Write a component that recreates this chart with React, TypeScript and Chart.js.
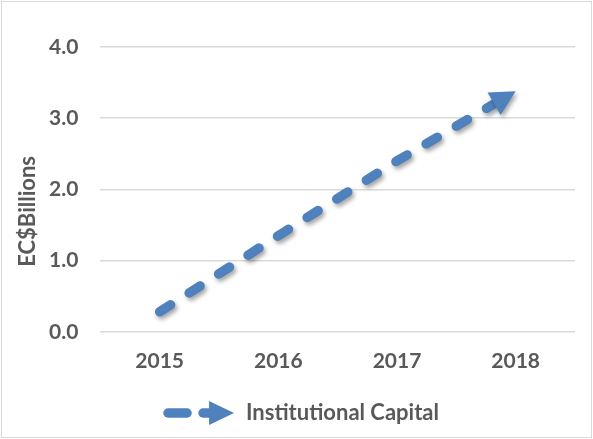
import React, { useEffect, useRef } from "react";
import { Chart, registerables } from "chart.js";

Chart.register(...registerables);

const categories = ["2015", "2016", "2017", "2018"];
const seriesName = "Institutional Capital";
const seriesValues = [0.28, 1.35, 2.4, 3.38];
const yTicks = [0, 1, 2, 3, 4];
const yTitle = "EC$Billions";

const BLUE = "#4f81bd";
const TEXT = "#595959";
const GRID = "#d9d9d9";
const FONT = "Lato";

function makeLegendImage(): HTMLCanvasElement {
  const c = document.createElement("canvas");
  c.width = 72;
  c.height = 26;
  const g = c.getContext("2d")!;
  g.strokeStyle = BLUE;
  g.fillStyle = BLUE;
  g.lineCap = "round";
  g.lineWidth = 9.5;
  g.beginPath();
  g.moveTo(5, 13);
  g.lineTo(24, 13);
  g.stroke();
  g.beginPath();
  g.moveTo(40, 13);
  g.lineTo(48, 13);
  g.stroke();
  g.beginPath();
  g.moveTo(46, 1);
  g.lineTo(71, 13);
  g.lineTo(46, 25);
  g.closePath();
  g.fill();
  return c;
}

const ARROW_LEN = 25;
const ARROW_W = 26;

function arrowGeom(chart: any) {
  const meta = chart.getDatasetMeta(0);
  const pts = meta.data;
  if (!pts || pts.length < 2) return null;
  const a = pts[pts.length - 2];
  const b = pts[pts.length - 1];
  const dx = b.x - a.x;
  const dy = b.y - a.y;
  const len = Math.hypot(dx, dy);
  const ux = dx / len;
  const uy = dy / len;
  return { tip: { x: b.x, y: b.y }, ux, uy };
}

const arrowPlugin = {
  id: "arrowPlugin",
  beforeDatasetsDraw(chart: any) {
    const g = arrowGeom(chart);
    const ctx = chart.ctx;
    ctx.save();
    ctx.shadowColor = "rgba(0,0,0,0.35)";
    ctx.shadowBlur = 4;
    ctx.shadowOffsetX = 2;
    ctx.shadowOffsetY = 3;
    if (g) {
      const bx = g.tip.x - g.ux * (ARROW_LEN - 4);
      const by = g.tip.y - g.uy * (ARROW_LEN - 4);
      const px = -g.uy;
      const py = g.ux;
      const B = 3000;
      ctx.beginPath();
      ctx.moveTo(bx + px * B, by + py * B);
      ctx.lineTo(bx - px * B, by - py * B);
      ctx.lineTo(bx - px * B - g.ux * B, by - py * B - g.uy * B);
      ctx.lineTo(bx + px * B - g.ux * B, by + py * B - g.uy * B);
      ctx.closePath();
      ctx.clip();
    }
  },
  afterDatasetsDraw(chart: any) {
    const ctx = chart.ctx;
    ctx.restore();
    const g = arrowGeom(chart);
    if (!g) return;
    const { tip, ux, uy } = g;
    const px = -uy;
    const py = ux;
    const bx = tip.x - ux * ARROW_LEN;
    const by = tip.y - uy * ARROW_LEN;
    ctx.save();
    ctx.shadowColor = "rgba(0,0,0,0.35)";
    ctx.shadowBlur = 4;
    ctx.shadowOffsetX = 2;
    ctx.shadowOffsetY = 3;
    ctx.fillStyle = BLUE;
    ctx.beginPath();
    ctx.moveTo(tip.x, tip.y);
    ctx.lineTo(bx + px * ARROW_W / 2, by + py * ARROW_W / 2);
    ctx.lineTo(bx - px * ARROW_W / 2, by - py * ARROW_W / 2);
    ctx.closePath();
    ctx.fill();
    ctx.restore();
  },
};

const yTitlePlugin = {
  id: "yTitlePlugin",
  afterDraw(chart: any) {
    const ctx = chart.ctx;
    const area = chart.chartArea;
    ctx.save();
    ctx.translate(28, (area.top + area.bottom) / 2 + 22);
    ctx.rotate(-Math.PI / 2);
    ctx.font = `bold 22px ${FONT}`;
    ctx.fillStyle = TEXT;
    ctx.textAlign = "center";
    ctx.textBaseline = "middle";
    ctx.fillText(yTitle, 0, 0);
    ctx.restore();
  },
};

export default function App() {
  const ref = useRef<HTMLCanvasElement>(null);
  useEffect(() => {
    if (!ref.current) return;
    const legendImg = makeLegendImage();
    const chart = new Chart(ref.current, {
      type: "line",
      data: {
        labels: categories,
        datasets: [
          {
            label: seriesName,
            data: seriesValues,
            borderColor: BLUE,
            backgroundColor: BLUE,
            borderWidth: 9.5,
            borderDash: [13, 22],
            borderCapStyle: "round",
            pointRadius: 0,
            tension: 0,
            clip: false as any,
          },
        ],
      },
      options: {
        responsive: false,
        animation: false,
        layout: { padding: { left: 27, right: 18, top: 47, bottom: 5 } },
        scales: {
          x: {
            offset: true,
            grid: { display: false, drawTicks: false },
            border: { display: false },
            ticks: {
              color: TEXT,
              font: { family: FONT, size: 21, weight: "bold" },
              padding: 17,
            },
          },
          y: {
            min: 0,
            max: 4,
            afterBuildTicks: (scale: any) => {
              scale.ticks = yTicks.map((v) => ({ value: v }));
            },
            grid: { color: GRID, lineWidth: 1.5, drawTicks: false },
            border: { display: false },
            ticks: {
              color: TEXT,
              font: { family: FONT, size: 21, weight: "bold" },
              padding: 22,
              callback: (v: any) => Number(v).toFixed(1),
            },
          },
        },
        plugins: {
          tooltip: { enabled: false },
          legend: {
            position: "bottom",
            labels: {
              usePointStyle: true,
              pointStyleWidth: 72,
              boxHeight: 20,
              padding: 11,
              color: TEXT,
              font: { family: FONT, size: 22, weight: "bold" },
              generateLabels: () => [
                {
                  text: seriesName,
                  pointStyle: legendImg as any,
                  fillStyle: BLUE,
                  strokeStyle: BLUE,
                  lineWidth: 0,
                  hidden: false,
                  datasetIndex: 0,
                  fontColor: TEXT,
                },
              ],
            },
          },
        },
      },
      plugins: [arrowPlugin, yTitlePlugin],
    });
    return () => chart.destroy();
  }, []);
  return (
    <div style={{ position: "fixed", left: 0, top: 0, width: 593, height: 439, background: "#fff" }}>
      <canvas ref={ref} width={593} height={439} style={{ display: "block" }} />
      <div
        style={{
          position: "absolute",
          left: 1,
          top: 1,
          right: 1,
          bottom: 1,
          border: "1.5px solid #d9d9d9",
          pointerEvents: "none",
        }}
      />
    </div>
  );
}
